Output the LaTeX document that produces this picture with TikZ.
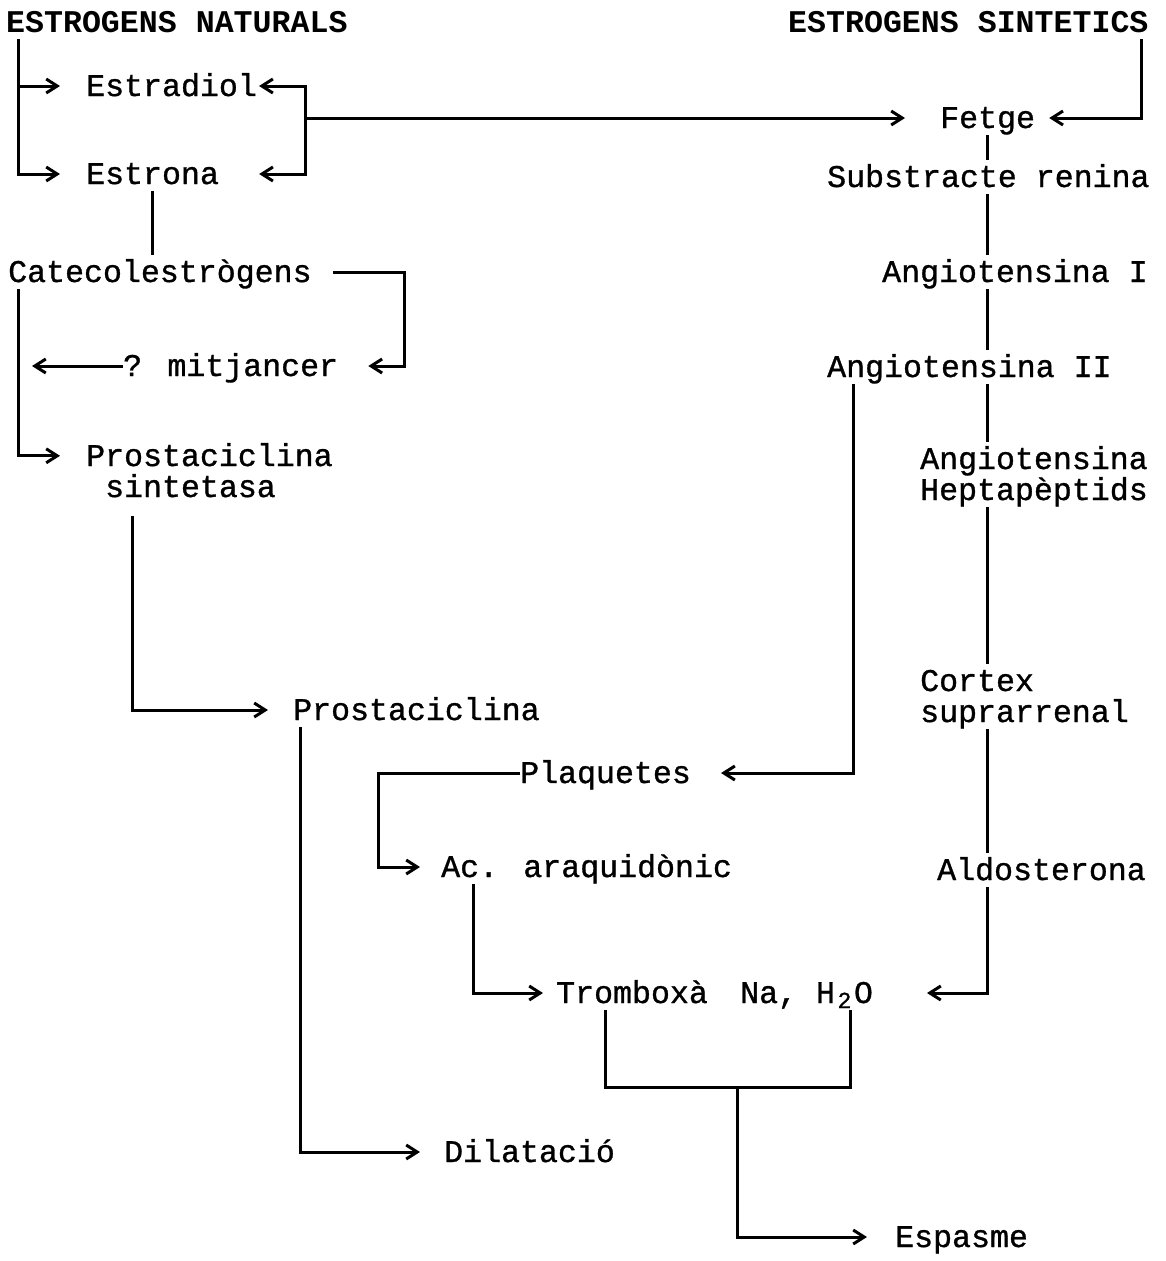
\documentclass[tikz,border=0pt]{standalone}
\usepackage{fontspec}
\usepackage{tikz}
\usetikzlibrary{arrows.meta, positioning, calc}
\newfontfamily\mono[FakeBold=1]{Liberation Mono}
\newfontfamily\monohead{Liberation Mono Bold}

\begin{document}
\begin{tikzpicture}[
    x=1pt, y=1pt,
    every node/.style={font=\mono\fontsize{31.6}{31}\selectfont},
    txt/.style={anchor=base west, inner sep=0pt, text height=27pt, text depth=7pt},
    two/.style={txt, align=left, text height=58pt},
    head/.style={txt, font=\monohead\fontsize{31.6}{31}\selectfont},
    link/.style={line width=3pt},
    >={Straight Barb[length=11pt,width=14pt]}
]
\useasboundingbox (0,0) rectangle (1165,-1261);

% headings
\node[head] (natur) at (6,-32)   {ESTROGENS NATURALS};
\node[head] (sint)  at (788,-32) {ESTROGENS SINTETICS};

% left branch
\node[txt] (estradiol) at (86,-96)   {Estradiol};
\node[txt] (estrona)   at (86,-184)  {Estrona};
\node[txt] (cat)       at (8,-282)   {Catecolestrògens};
\node[txt] (mitj)      at (123,-376) {? mitjancer};
\node[two] (psint)     at (86,-497)  {Prostaciclina\\\hspace*{0.6em}sintetasa};
\node[txt] (prost)     at (293,-720) {Prostaciclina};
\node[txt] (dil)       at (444,-1162) {Dilatació};

% right branch
\node[txt] (fetge)  at (940,-128) {Fetge};
\node[txt] (subst)  at (827,-187) {Substracte renina};
\node[txt] (angi)   at (882,-282) {Angiotensina I};
\node[txt] (angii)  at (827,-377) {Angiotensina II};
\node[two] (hept)   at (920,-500) {Angiotensina\\Heptapèptids};
\node[two] (cortex) at (920,-722) {Cortex\\suprarrenal};
\node[txt] (aldo)   at (937,-880) {Aldosterona};

% middle
\node[txt] (plaq) at (520,-783)  {Plaquetes};
\node[txt] (acid) at (441,-877)  {Ac. araquidònic};
\node[txt] (trom) at (556,-1003) {Tromboxà};
\node[txt] (na)   at (740,-1003) {Na, H\makebox[0.6em]{\raisebox{-5pt}{\fontsize{23}{23}\selectfont 2}}O};
\node[txt] (esp)  at (895,-1247) {Espasme};

\coordinate (jn)    at (305,-118);
\coordinate (lrail) at ([xshift=10pt]cat.south west);
\coordinate (mrg)   at (737,-1087);

% estrogens to liver
\draw[link, ->, shorten >=26pt] ([xshift=12pt]natur.south west) |- (estradiol);
\draw[link, ->, shorten >=26pt] ([xshift=12pt]natur.south west) |- (estrona);
\draw[link, <-, shorten <=2pt]  (estradiol) -| (jn);
\draw[link, <-, shorten <=40pt] (estrona) -| (jn);
\draw[link, ->, shorten >=35pt] (jn) -- (fetge);
\draw[link, ->, shorten >=14pt] ([xshift=-7pt]sint.south east) |- (fetge);

% renin chain
\foreach \a/\b in {fetge/subst, subst/angi, angi/angii, angii/hept, hept/cortex, cortex/aldo}
  \draw[link] (fetge.south |- \a.south) -- (fetge.south |- \b.north);
\draw[link, ->] (fetge.south |- aldo.south) |- ([xshift=187pt]na.west);

% catechol estrogens
\draw[link] (estrona.south) -- (estrona.south |- cat.north);
\draw[link, ->, shorten <=21pt, shorten >=30pt] (cat) -| ([xshift=66pt]mitj.east) -- (mitj);
\draw[link, ->, shorten >=14pt] (mitj) -- (mitj -| lrail);
\draw[link, ->, shorten >=26pt] (lrail) |- ([yshift=-17pt]psint.north west);
\draw[link, ->, shorten <=12pt, shorten >=25pt] ([xshift=46pt]psint.south west) |- (prost);
\draw[link, ->, shorten >=24pt] ([xshift=7pt]prost.south west) |- (dil);

% platelets
\draw[link, ->, shorten >=30pt] ([xshift=26pt]angii.south west) |- (plaq);
\draw[link, ->, shorten >=21pt] (plaq.west) -| ([xshift=-63pt]acid.west) -- (acid);
\draw[link, ->, shorten >=13pt] ([xshift=32pt]acid.south west) |- (trom);
\draw[link] ([xshift=49pt]trom.south west) |- (mrg);
\draw[link] ([xshift=110pt]na.south west) |- (mrg);
\draw[link, ->, shorten >=28pt] (mrg) |- (esp);
\end{tikzpicture}
\end{document}
